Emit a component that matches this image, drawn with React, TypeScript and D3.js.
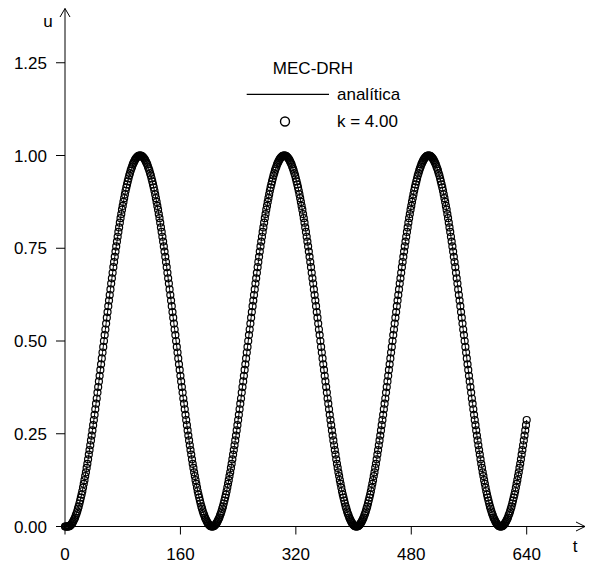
import React from "react";
import * as d3 from "d3";

// displacement u at t = 0, 1, 2, ..., 640
const uValues: number[] = [
  0, 0, 0, 0,
  // rise 1
  0, 0, .001, .002, .004, .006, .009, .012, .016, .020,
  .024, .030, .035, .041, .048, .054, .062, .070, .078, .086,
  .095, .105, .115, .125, .136, .146, .158, .169, .181, .194,
  .206, .219, .232, .245, .259, .273, .287, .301, .316, .331,
  .345, .361, .376, .391, .406, .422, .437, .453, .469, .484,
  .5,
  .516, .531, .547, .563, .578, .594, .609, .624, .639, .655,
  .669, .684, .699, .713, .727, .741, .755, .768, .781, .794,
  .806, .819, .831, .842, .854, .864, .875, .885, .895, .905,
  .914, .922, .930, .938, .946, .952, .959, .965, .970, .976,
  .980, .984, .988, .991, .994, .996, .998, .999, 1, 1,
  // fall 1
  1, .999, .998, .996, .994, .991, .988, .984, .980,
  .976, .970, .965, .959, .952, .946, .938, .930, .922, .914,
  .905, .895, .885, .875, .864, .854, .842, .831, .819, .806,
  .794, .781, .768, .755, .741, .727, .713, .699, .684, .669,
  .655, .639, .624, .609, .594, .578, .563, .547, .531, .516,
  .5,
  .484, .469, .453, .437, .422, .406, .391, .376, .361, .345,
  .331, .316, .301, .287, .273, .259, .245, .232, .219, .206,
  .194, .181, .169, .158, .146, .136, .125, .115, .105, .095,
  .086, .078, .070, .062, .054, .048, .041, .035, .030, .024,
  .020, .016, .012, .009, .006, .004, .002, .001, 0,
  // rise 2
  0, 0, .001, .002, .004, .006, .009, .012, .016, .020,
  .024, .030, .035, .041, .048, .054, .062, .070, .078, .086,
  .095, .105, .115, .125, .136, .146, .158, .169, .181, .194,
  .206, .219, .232, .245, .259, .273, .287, .301, .316, .331,
  .345, .361, .376, .391, .406, .422, .437, .453, .469, .484,
  .5,
  .516, .531, .547, .563, .578, .594, .609, .624, .639, .655,
  .669, .684, .699, .713, .727, .741, .755, .768, .781, .794,
  .806, .819, .831, .842, .854, .864, .875, .885, .895, .905,
  .914, .922, .930, .938, .946, .952, .959, .965, .970, .976,
  .980, .984, .988, .991, .994, .996, .998, .999, 1, 1,
  // fall 2
  1, .999, .998, .996, .994, .991, .988, .984, .980,
  .976, .970, .965, .959, .952, .946, .938, .930, .922, .914,
  .905, .895, .885, .875, .864, .854, .842, .831, .819, .806,
  .794, .781, .768, .755, .741, .727, .713, .699, .684, .669,
  .655, .639, .624, .609, .594, .578, .563, .547, .531, .516,
  .5,
  .484, .469, .453, .437, .422, .406, .391, .376, .361, .345,
  .331, .316, .301, .287, .273, .259, .245, .232, .219, .206,
  .194, .181, .169, .158, .146, .136, .125, .115, .105, .095,
  .086, .078, .070, .062, .054, .048, .041, .035, .030, .024,
  .020, .016, .012, .009, .006, .004, .002, .001, 0,
  // rise 3
  0, 0, .001, .002, .004, .006, .009, .012, .016, .020,
  .024, .030, .035, .041, .048, .054, .062, .070, .078, .086,
  .095, .105, .115, .125, .136, .146, .158, .169, .181, .194,
  .206, .219, .232, .245, .259, .273, .287, .301, .316, .331,
  .345, .361, .376, .391, .406, .422, .437, .453, .469, .484,
  .5,
  .516, .531, .547, .563, .578, .594, .609, .624, .639, .655,
  .669, .684, .699, .713, .727, .741, .755, .768, .781, .794,
  .806, .819, .831, .842, .854, .864, .875, .885, .895, .905,
  .914, .922, .930, .938, .946, .952, .959, .965, .970, .976,
  .980, .984, .988, .991, .994, .996, .998, .999, 1, 1,
  // fall 3
  1, .999, .998, .996, .994, .991, .988, .984, .980,
  .976, .970, .965, .959, .952, .946, .938, .930, .922, .914,
  .905, .895, .885, .875, .864, .854, .842, .831, .819, .806,
  .794, .781, .768, .755, .741, .727, .713, .699, .684, .669,
  .655, .639, .624, .609, .594, .578, .563, .547, .531, .516,
  .5,
  .484, .469, .453, .437, .422, .406, .391, .376, .361, .345,
  .331, .316, .301, .287, .273, .259, .245, .232, .219, .206,
  .194, .181, .169, .158, .146, .136, .125, .115, .105, .095,
  .086, .078, .070, .062, .054, .048, .041, .035, .030, .024,
  .020, .016, .012, .009, .006, .004, .002, .001, 0,
  // rise 4 (partial)
  0, 0, .001, .002, .004, .006, .009, .012, .016, .020,
  .024, .030, .035, .041, .048, .054, .062, .070, .078, .086,
  .095, .105, .115, .125, .136, .146, .158, .169, .181, .194,
  .206, .219, .232, .245, .259, .273, .287,
];

const tStep = 1;
const xTicks = [0, 160, 320, 480, 640];
const yTicks = [0, 0.25, 0.5, 0.75, 1.0, 1.25];
const legendTitle = "MEC-DRH";
const legendLine = "analítica";
const legendMarker = "k = 4.00";

const W = 594;
const H = 566;
const FONT = "'Liberation Sans', Arial, Helvetica, sans-serif";

export default function App() {
  const x = d3.scaleLinear().domain([0, 640]).range([65, 526.7]);
  const y = d3.scaleLinear().domain([0, 1]).range([526.5, 155.5]);
  const pts = uValues.map((u, i) => [i * tStep, u] as [number, number]);
  const line = d3
    .line<[number, number]>()
    .x((d) => x(d[0]))
    .y((d) => y(d[1]));
  const x0 = x(0);
  const y0 = y(0);
  const fs = 17;

  return (
    <svg
      width={W}
      height={H}
      style={{ position: "absolute", left: 0, top: 0, background: "#fff" }}
      fontFamily={FONT}
    >
      <rect width={W} height={H} fill="#fff" />
      {/* y axis */}
      <line x1={x0} y1={y0} x2={x0} y2={8.5} stroke="#000" strokeWidth={1} />
      <polyline
        points={`${x0 - 5},${17} ${x0},${8.5} ${x0 + 5},${17}`}
        fill="none"
        stroke="#000"
        strokeWidth={1}
      />
      {yTicks.map((v) => (
        <g key={"y" + v}>
          <line x1={x0 - 9} x2={x0} y1={y(v)} y2={y(v)} stroke="#000" />
          <text
            x={47}
            y={y(v)}
            dy="0.36em"
            textAnchor="end"
            fontSize={fs}
            fill="#000"
          >
            {v.toFixed(2)}
          </text>
        </g>
      ))}
      <text x={48} y={26.5} textAnchor="middle" fontSize={fs} fill="#000">
        u
      </text>
      {/* x axis */}
      <line x1={x0} y1={y0} x2={585} y2={y0} stroke="#000" />
      <polyline
        points={`576,${y0 - 4.5} 585,${y0} 576,${y0 + 4.5}`}
        fill="none"
        stroke="#000"
      />
      {xTicks.map((v) => (
        <g key={"x" + v}>
          <line x1={x(v)} x2={x(v)} y1={y0} y2={y0 + 8} stroke="#000" />
          <text
            x={x(v)}
            y={560}
            textAnchor="middle"
            fontSize={fs}
            fill="#000"
          >
            {v}
          </text>
        </g>
      ))}
      <text x={575} y={552} textAnchor="middle" fontSize={fs} fill="#000">
        t
      </text>
      {/* analytic line */}
      <path d={line(pts) ?? ""} fill="none" stroke="#000" strokeWidth={1} />
      {/* numerical markers */}
      {pts.map((d, i) => (
        <circle
          key={i}
          cx={x(d[0])}
          cy={y(d[1])}
          r={3.5}
          fill="none"
          stroke="#000"
          strokeWidth={1.2}
        />
      ))}
      {/* legend */}
      <text x={313} y={74} textAnchor="middle" fontSize={fs} fill="#000">
        {legendTitle}
      </text>
      <line x1={246.7} x2={329} y1={94.3} y2={94.3} stroke="#000" strokeWidth={1.3} />
      <text x={337} y={100} fontSize={fs} fill="#000">
        {legendLine}
      </text>
      <circle cx={285} cy={121.5} r={4.5} fill="none" stroke="#000" strokeWidth={1.4} />
      <text x={337} y={127} fontSize={fs} fill="#000">
        {legendMarker}
      </text>
    </svg>
  );
}
